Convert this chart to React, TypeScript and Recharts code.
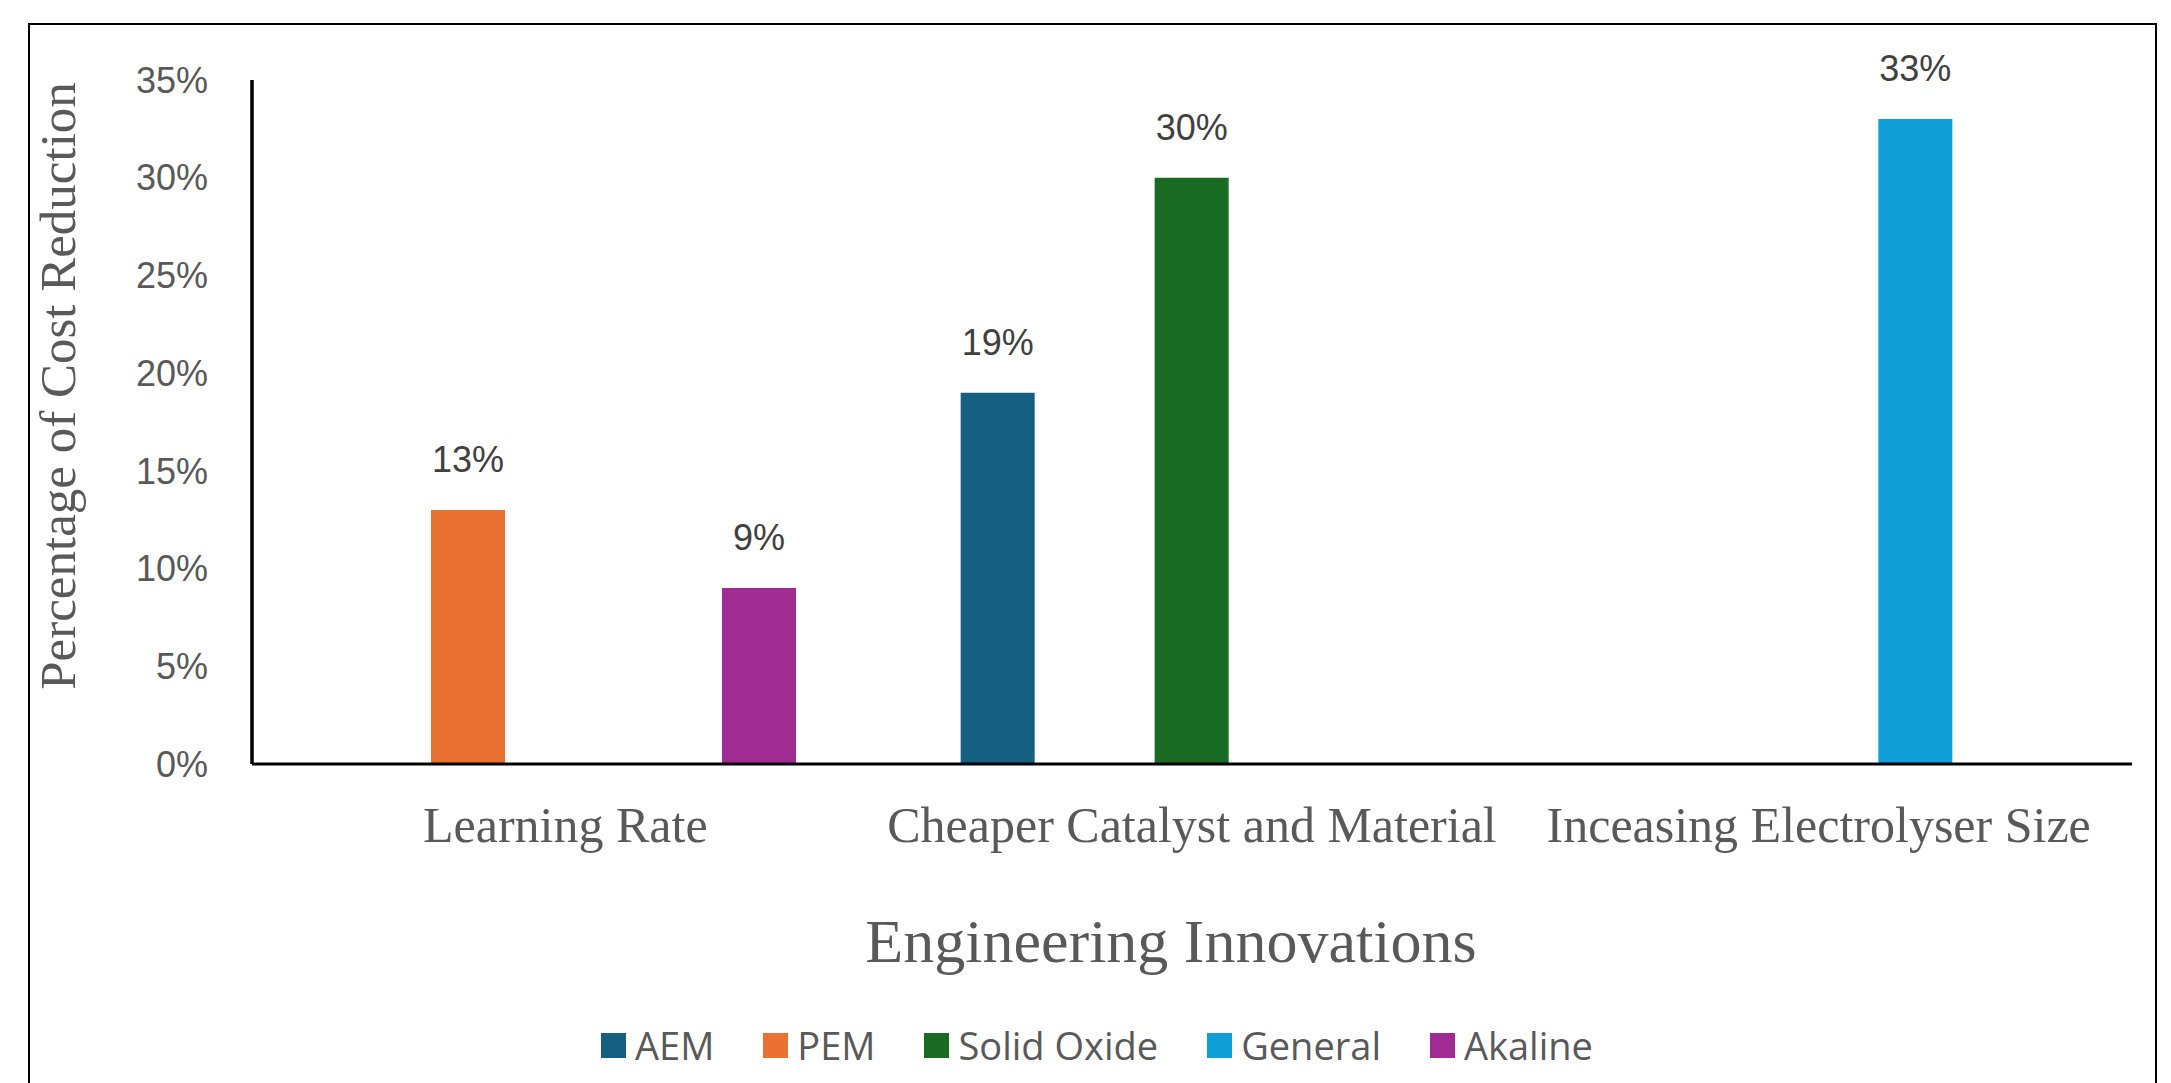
import React from "react";
import {
  BarChart,
  Bar,
  XAxis,
  YAxis,
  LabelList,
  Legend,
} from "recharts";

const categories = [
  "Learning Rate",
  "Cheaper Catalyst and Material",
  "Inceasing Electrolyser Size",
];
const seriesNames = ["AEM", "PEM", "Solid Oxide", "General", "Akaline"];
const seriesColors = ["#156082", "#E97132", "#196B24", "#0F9ED5", "#A02B93"];
const aem = [null, 19, null];
const pem = [13, null, null];
const solidOxide = [null, 30, null];
const general = [null, null, 33];
const akaline = [9, null, null];
const yTicks = [0, 5, 10, 15, 20, 25, 30, 35];

const seriesValues = [aem, pem, solidOxide, general, akaline];

const data = categories.map((name, i) => {
  const row: Record<string, any> = { name };
  seriesNames.forEach((s, j) => {
    row[s] = seriesValues[j][i];
  });
  return row;
});

const SERIF = "'Liberation Serif', 'Times New Roman', serif";
const SANS = "'Liberation Sans', Arial, sans-serif";
const GREY = "#595959";

const YTitle = (props: any) => {
  const { viewBox } = props;
  const cx = viewBox.x + 58;
  const cy = viewBox.y + viewBox.height / 2 - 36;
  return (
    <text
      x={cx}
      y={cy}
      transform={`rotate(-90 ${cx} ${cy})`}
      textAnchor="middle"
      dominantBaseline="central"
      fontFamily={SERIF}
      fontSize={51}
      fill={GREY}
    >
      Percentage of Cost Reduction
    </text>
  );
};

const XTitle = (props: any) => {
  const { viewBox } = props;
  return (
    <text
      x={viewBox.x + viewBox.width / 2 - 21}
      y={viewBox.y + 198}
      textAnchor="middle"
      fontFamily={SERIF}
      fontSize={62}
      fill={GREY}
    >
      Engineering Innovations
    </text>
  );
};

const LegendContent = () => (
  <div
    style={{
      height: 60,
      display: "flex",
      alignItems: "flex-start",
      paddingLeft: 601,
      paddingTop: 10,
      boxSizing: "border-box",
    }}
  >
    {seriesNames.map((s, i) => (
      <div
        key={s}
        style={{ display: "flex", alignItems: "center", marginRight: 49 }}
      >
        <div
          style={{
            width: 25,
            height: 25,
            background: seriesColors[i],
            marginRight: 9,
          }}
        />
        <span
          style={{
            fontFamily: "'Open Sans', sans-serif",
            fontSize: 38,
            color: GREY,
            lineHeight: "25px",
          }}
        >
          {s}
        </span>
      </div>
    ))}
  </div>
);

export default function App() {
  return (
    <div
      style={{
        position: "absolute",
        left: 0,
        top: 0,
        width: 2171,
        height: 1083,
        overflow: "hidden",
        background: "#fff",
      }}
    >
      <div
        style={{
          position: "absolute",
          left: 28,
          top: 23,
          width: 2129,
          height: 1200,
          border: "2.5px solid #000",
          boxSizing: "border-box",
        }}
      />
      <div style={{ position: "absolute", left: 0, top: 0 }}>
        <BarChart
          width={2171}
          height={1083}
          data={data}
          margin={{ top: 80, right: 39, bottom: 0, left: 0 }}
          barSize={74}
          barGap={23}
        >
          <XAxis
            dataKey="name"
            height={259}
            axisLine={{ stroke: "#000", strokeWidth: 3 }}
            tickLine={false}
            tickSize={0}
            tickMargin={42}
            tick={{ fontFamily: SERIF, fontSize: 50, fill: GREY }}
            interval={0}
            label={<XTitle />}
          />
          <YAxis
            width={252}
            domain={[0, 35]}
            ticks={yTicks}
            tickFormatter={(v: number) => `${v}%`}
            axisLine={{ stroke: "#000", strokeWidth: 3.5 }}
            tickLine={false}
            tickSize={0}
            tickMargin={44}
            tick={{ fontFamily: SANS, fontSize: 36, fill: GREY }}
            label={<YTitle />}
          />
          <Legend
            verticalAlign="bottom"
            height={60}
            content={<LegendContent />}
          />
          {seriesNames.map((s, i) => (
            <Bar
              key={s}
              dataKey={s}
              fill={seriesColors[i]}
              isAnimationActive={false}
            >
              <LabelList
                dataKey={s}
                position="top"
                offset={38}
                formatter={(v: any) => (v == null ? "" : `${v}%`)}
                style={{ fontFamily: SANS, fontSize: 36, fill: "#404040" }}
              />
            </Bar>
          ))}
        </BarChart>
      </div>
    </div>
  );
}
